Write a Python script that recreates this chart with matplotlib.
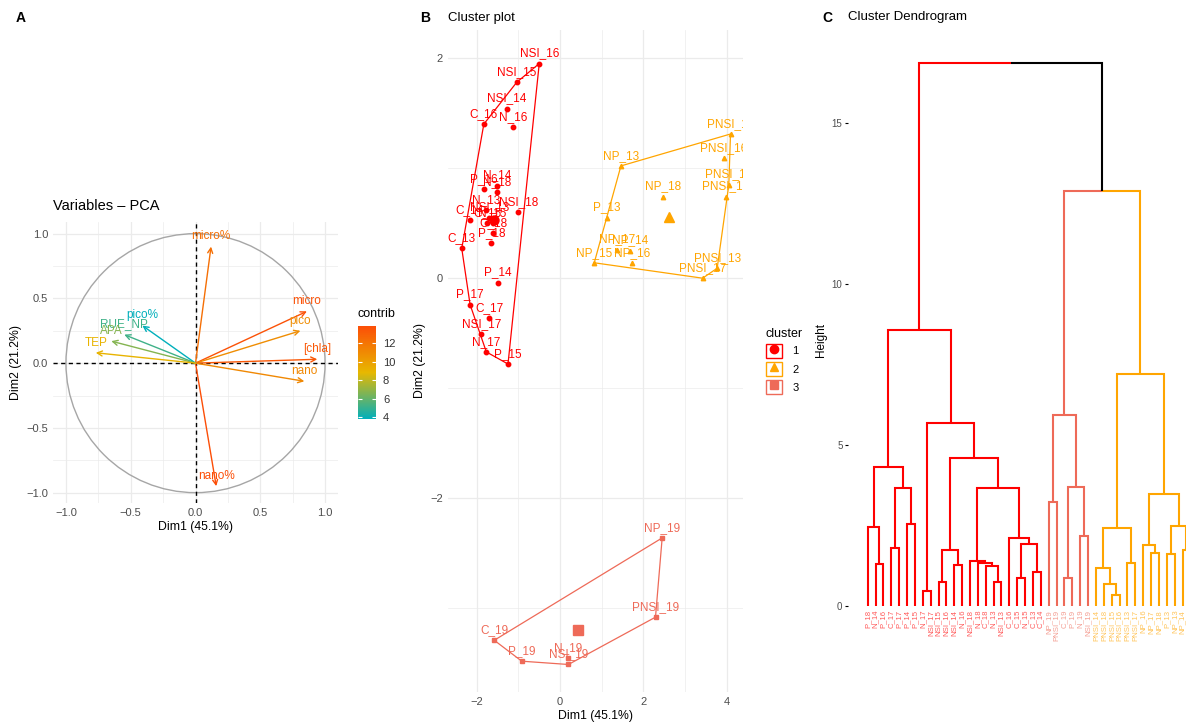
import numpy as np
import matplotlib
matplotlib.use("Agg")
import matplotlib.pyplot as plt
from matplotlib.colors import LinearSegmentedColormap, Normalize
from matplotlib.cm import ScalarMappable
from matplotlib.lines import Line2D
from matplotlib.patches import Rectangle, Circle

plt.rcParams["font.family"] = ["Liberation Sans", "DejaVu Sans"]

W, H = 1186, 725

# ---- A: PCA variables
var_names = ["micro%", "micro", "pico", "[chla]", "nano", "nano%", "pico%", "RUE_NP", "APA", "TEP"]
var_dim1 = [0.12, 0.86, 0.81, 0.94, 0.84, 0.16, -0.41, -0.55, -0.65, -0.77]
var_dim2 = [0.90, 0.40, 0.25, 0.03, -0.14, -0.95, 0.29, 0.22, 0.17, 0.08]
var_contrib = [12.3, 13.7, 10.9, 13.4, 11.1, 13.9, 3.8, 5.2, 6.7, 9.1]

# ---- B: individuals on Dim1/Dim2
ind_names = ["NSI_16", "NSI_15", "NSI_14", "C_16", "N_16", "P_16", "N_14", "N_18", "N_13",
             "NSI_18", "C_14", "NSI_13", "C_15", "C_18", "N_15", "P_18", "C_13", "P_14",
             "P_17", "C_17", "NSI_17", "N_17", "P_15",
             "PNSI_14", "NP_13", "NP_18", "P_13", "NP_15", "NP_17", "NP_14", "NP_16",
             "PNSI_13", "PNSI_17", "PNSI_18", "PNSI_15", "PNSI_16",
             "NP_19", "PNSI_19", "C_19", "P_19", "N_19", "NSI_19"]
ind_dim1 = [-0.50, -1.04, -1.28, -1.83, -1.13, -1.82, -1.52, -1.51, -1.77,
            -1.00, -2.17, -1.70, -1.75, -1.60, -1.62, -1.65, -2.36, -1.49,
            -2.16, -1.70, -1.89, -1.77, -1.25,
            4.09, 1.46, 2.46, 1.13, 0.82, 1.36, 1.68, 1.73,
            3.77, 3.42, 3.98, 4.05, 3.93,
            2.45, 2.29, -1.58, -0.92, 0.20, 0.20]
ind_dim2 = [1.95, 1.78, 1.54, 1.40, 1.37, 0.81, 0.84, 0.78, 0.62,
            0.60, 0.53, 0.55, 0.50, 0.41, 0.50, 0.32, 0.27, -0.04,
            -0.24, -0.36, -0.51, -0.67, -0.78,
            1.31, 1.02, 0.74, 0.55, 0.14, 0.26, 0.25, 0.14,
            0.09, 0.00, 0.74, 0.85, 1.09,
            -2.36, -3.08, -3.29, -3.48, -3.45, -3.51]
ind_cluster = [1] * 23 + [2] * 13 + [3] * 6

clust_cols = {1: "#FF0000", 2: "#FFA500", 3: "#EE6A58"}
clust_marks = {1: "o", 2: "^", 3: "s"}

# ---- C: dendrogram (leaf order, merges = (child, child, height))
leaf_order = ["P_18", "N_14", "P_16", "C_17", "P_17", "P_14", "P_15", "N_17", "NSI_17",
              "NSI_15", "NSI_16", "NSI_14", "N_16", "NSI_18", "N_18", "C_18", "N_13",
              "NSI_13", "C_16", "C_15", "N_15", "C_13", "C_14",
              "NP_19", "PNSI_19", "C_19", "P_19", "N_19", "NSI_19",
              "PNSI_14", "PNSI_18", "PNSI_15", "PNSI_16", "PNSI_13", "PNSI_17",
              "NP_16", "NP_17", "NP_18", "P_13", "NP_13", "NP_14", "NP_15"]
merges = [("N_14", "P_16", 1.29), ("P_18", 0, 2.44), ("C_17", "P_17", 1.79),
          ("P_14", "P_15", 2.55), (2, 3, 3.65), (1, 4, 4.33), ("N_17", "NSI_17", 0.48),
          ("NSI_15", "NSI_16", 0.76), ("NSI_14", "N_16", 1.27), (7, 8, 1.74),
          ("N_13", "NSI_13", 0.76), ("C_18", 10, 1.25), ("N_18", 11, 1.33),
          ("NSI_18", 12, 1.40), ("C_15", "N_15", 0.88), ("C_13", "C_14", 1.07),
          (14, 15, 1.92), ("C_16", 16, 2.10), (13, 17, 3.65), (9, 18, 4.59),
          (6, 19, 5.67), (5, 20, 8.57),
          ("NP_19", "PNSI_19", 3.24), ("C_19", "P_19", 0.88), ("N_19", "NSI_19", 2.18),
          (23, 24, 3.71), (22, 25, 5.93),
          ("PNSI_15", "PNSI_16", 0.34), ("PNSI_18", 27, 0.67), ("PNSI_14", 28, 1.17),
          ("PNSI_13", "PNSI_17", 1.33), (29, 30, 2.43), ("NP_17", "NP_18", 1.64),
          ("NP_16", 32, 1.89), ("P_13", "NP_13", 1.61), ("NP_14", "NP_15", 1.74),
          (34, 35, 2.49), (33, 36, 3.48), (31, 37, 7.20), (26, 38, 12.89), (21, 39, 16.88)]


def box(l, t, r, b):
    return [l / W, 1 - b / H, (r - l) / W, (b - t) / H]


def style_minimal(ax):
    for s in ax.spines.values():
        s.set_visible(False)
    ax.tick_params(which="both", length=0, labelsize=8, labelcolor="#4D4D4D")
    ax.grid(which="major", color="#EBEBEB", lw=0.9)
    ax.grid(which="minor", color="#EBEBEB", lw=0.5)
    ax.set_axisbelow(True)


def hull(pts):
    pts = sorted(set(pts))
    def cross(o, a, b):
        return (a[0] - o[0]) * (b[1] - o[1]) - (a[1] - o[1]) * (b[0] - o[0])
    lower, upper = [], []
    for p in pts:
        while len(lower) >= 2 and cross(lower[-2], lower[-1], p) <= 0:
            lower.pop()
        lower.append(p)
    for p in reversed(pts):
        while len(upper) >= 2 and cross(upper[-2], upper[-1], p) <= 0:
            upper.pop()
        upper.append(p)
    return lower[:-1] + upper[:-1]


fig = plt.figure(figsize=(W / 100, H / 100), dpi=100)

# ================= A
axA = fig.add_axes(box(53, 222, 338, 503))
style_minimal(axA)
axA.set_xlim(-1.1, 1.1)
axA.set_ylim(-1.08, 1.09)
axA.set_xticks([-1, -0.5, 0, 0.5, 1])
axA.set_xticklabels(["\u22121.0", "\u22120.5", "0.0", "0.5", "1.0"])
axA.set_yticks([-1, -0.5, 0, 0.5, 1])
axA.set_yticklabels(["\u22121.0", "\u22120.5", "0.0", "0.5", "1.0"])
axA.set_xticks(np.arange(-1, 1.01, 0.25), minor=True)
axA.set_yticks(np.arange(-1, 1.01, 0.25), minor=True)
axA.add_patch(Circle((0, 0), 1, fill=False, color="#A6A6A6", lw=1.0))
axA.axhline(0, color="black", ls="--", lw=1.0, dashes=(3, 2.5))
axA.axvline(0, color="black", ls="--", lw=1.0, dashes=(3, 2.5))

cmap = LinearSegmentedColormap.from_list("contrib", ["#00AFBB", "#E7B800", "#FC4E07"])
norm = Normalize(min(var_contrib), max(var_contrib))
for nm, x, y, c in zip(var_names, var_dim1, var_dim2, var_contrib):
    col = cmap(norm(c))
    axA.annotate("", xy=(x, y), xytext=(0, 0),
                 arrowprops=dict(arrowstyle="->", color=col, lw=1.0, mutation_scale=9,
                                 shrinkA=0, shrinkB=0))
    axA.annotate(nm, xy=(x, y), xytext=(0, 3), textcoords="offset points",
                 ha="center", va="bottom", fontsize=8.5, color=col)
axA.set_xlabel("Dim1 (45.1%)", fontsize=8.8, labelpad=2)
axA.set_ylabel("Dim2 (21.2%)", fontsize=8.8, labelpad=3)
fig.text(53 / W, 1 - 206 / H, "Variables \u2013 PCA", fontsize=10.5, va="center")

cax = fig.add_axes(box(358, 326, 376, 419))
cb = fig.colorbar(ScalarMappable(norm=norm, cmap=cmap), cax=cax, ticks=[4, 6, 8, 10, 12])
cb.outline.set_visible(False)
cax.yaxis.set_ticks_position("both")
cax.tick_params(direction="in", color="white", length=3, width=0.8, labelsize=8,
                labelcolor="#333333", pad=5)
fig.text(358 / W, 1 - 314 / H, "contrib", fontsize=9, va="center")

# ================= B
axB = fig.add_axes(box(448, 30, 743, 692))
style_minimal(axB)
axB.set_xlim(-2.69, 4.39)
axB.set_ylim(-3.76, 2.255)
axB.set_xticks([-2, 0, 2, 4])
axB.set_xticklabels(["\u22122", "0", "2", "4"])
axB.set_xticks([-1, 1, 3], minor=True)
axB.set_yticks([-2, 0, 2])
axB.set_yticklabels(["\u22122", "0", "2"])
axB.set_yticks([-3, -1, 1], minor=True)

dim1 = np.array(ind_dim1)
dim2 = np.array(ind_dim2)
cl = np.array(ind_cluster)
for k in (1, 2, 3):
    col = clust_cols[k]
    sel = cl == k
    hp = hull(list(zip(dim1[sel], dim2[sel])))
    hx = [p[0] for p in hp] + [hp[0][0]]
    hy = [p[1] for p in hp] + [hp[0][1]]
    axB.plot(hx, hy, color=col, lw=0.9)
    axB.plot(dim1[sel], dim2[sel], ls="none", marker=clust_marks[k], color=col, markersize=3.2)
    axB.plot(dim1[sel].mean(), dim2[sel].mean(), ls="none", marker=clust_marks[k], color=col,
             markersize=6.5)
for nm, x, y, k in zip(ind_names, ind_dim1, ind_dim2, ind_cluster):
    axB.annotate(nm, xy=(x, y), xytext=(0, 3), textcoords="offset points", ha="center",
                 va="bottom", fontsize=8.5, color=clust_cols[k], annotation_clip=False,
                 clip_on=True)
axB.set_xlabel("Dim1 (45.1%)", fontsize=8.8, labelpad=2)
axB.set_ylabel("Dim2 (21.2%)", fontsize=8.8, labelpad=3)
fig.text(448 / W, 1 - 18 / H, "Cluster plot", fontsize=9.5, va="center")

handles = [(Rectangle((0, 0), 1, 1, facecolor="white", edgecolor=clust_cols[k], lw=1.0),
            Line2D([], [], ls="none", marker=clust_marks[k], color=clust_cols[k], markersize=6))
           for k in (1, 2, 3)]
fig.legend(handles, ["1", "2", "3"], title="cluster", loc="upper left",
           bbox_to_anchor=(758 / W, 1 - 320 / H), frameon=False, fontsize=8,
           title_fontsize=9, alignment="left", handlelength=1.5, handleheight=1.6,
           handletextpad=0.9, labelspacing=0.35, borderpad=0.2)

# ================= C
axC = fig.add_axes(box(848, 20, 1186, 700))
for s in axC.spines.values():
    s.set_visible(False)
axC.set_xlim(-1.5, 41.44)
axC.set_ylim(-2.92, 18.2)
axC.set_xticks([])
axC.set_yticks([0, 5, 10, 15])
axC.tick_params(axis="y", length=2, width=0.8, labelsize=7, labelcolor="#4D4D4D", pad=2)
axC.set_ylabel("Height", fontsize=8.5, labelpad=4)
axC.yaxis.set_label_coords(-0.062, 0.53)

leaf_clust = dict(zip(ind_names, ind_cluster))
pos = {nm: i + 1 for i, nm in enumerate(leaf_order)}
node_x, node_h, node_col = {}, {}, {}


def info(ch):
    if isinstance(ch, str):
        return pos[ch], 0.0, clust_cols[leaf_clust[ch]]
    return node_x[ch], node_h[ch], node_col[ch]


for i, (a, b, h) in enumerate(merges):
    xa, ha, ca = info(a)
    xb, hb, cb_ = info(b)
    xm = (xa + xb) / 2
    node_x[i], node_h[i] = xm, h
    node_col[i] = ca if ca == cb_ and ca != "black" else "black"
    for xc, hc, cc in ((xa, ha, ca), (xb, hb, cb_)):
        axC.plot([xm, xc, xc], [h, h, hc], color=cc, lw=1.5, solid_joinstyle="miter",
                 solid_capstyle="butt")

for nm in leaf_order:
    axC.text(pos[nm], -0.12, nm, rotation=90, ha="center", va="top", fontsize=5.6,
             color=clust_cols[leaf_clust[nm]], alpha=0.65, clip_on=True)
fig.text(848 / W, 1 - 17 / H, "Cluster Dendrogram", fontsize=9.5, va="center")

for lab, px in (("A", 16), ("B", 420), ("C", 822)):
    fig.text(px / W, 1 - 18 / H, lab, fontsize=10, fontweight="bold", va="center")

fig.savefig("out.png", dpi=100)
